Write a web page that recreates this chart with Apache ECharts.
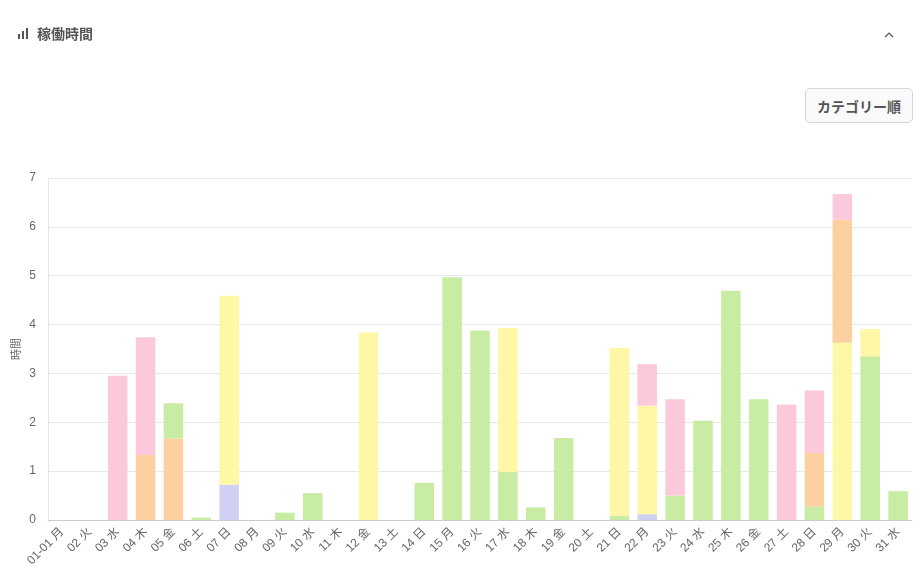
<!DOCTYPE html>
<html>
<head>
<meta charset="utf-8">
<script src="https://cdn.jsdelivr.net/npm/echarts@6/dist/echarts.min.js"></script>
<style>
  body { margin: 0; background: #fff; font-family: "Noto Sans CJK JP", "Noto Sans", sans-serif; }
  #wrap { position: relative; width: 924px; height: 584px; overflow: hidden; }
  #title { position: absolute; left: 18px; top: 23px; font-size: 14px; font-weight: bold; color: #555; display: flex; align-items: center; }
  #title .ico { display: inline-flex; align-items: flex-end; height: 11px; margin-right: 9px; gap: 2px; }
  #title .ico span { width: 2px; background: #555; display: inline-block; }
  #chev { position: absolute; left: 883px; top: 30px; }
  #btn { position: absolute; left: 805px; top: 88px; width: 108px; height: 35px; box-sizing: border-box; border: 1px solid #d6d6d6; border-radius: 5px; background: #fafafa; color: #555; font-size: 14px; font-weight: bold; display: flex; align-items: center; justify-content: center; }
  #main { position: absolute; left: 0; top: 0; width: 924px; height: 584px; }
</style>
</head>
<body>
<div id="wrap">
  <div id="main"></div>
  <div id="title"><span class="ico"><span style="height:5px"></span><span style="height:8px"></span><span style="height:11px"></span></span>稼働時間</div>
  <svg id="chev" width="12" height="10"><polyline points="2,7 6,3 10,7" fill="none" stroke="#555" stroke-width="1.2"/></svg>
  <div id="btn">カテゴリー順</div>
</div>
<script>
// 日付ラベル
var days = ["01-01 月","02 火","03 水","04 木","05 金","06 土","07 日","08 月","09 火","10 水",
  "11 木","12 金","13 土","14 日","15 月","16 火","17 水","18 木","19 金","20 土",
  "21 日","22 月","23 火","24 水","25 木","26 金","27 土","28 日","29 月","30 火","31 水"];

// カテゴリー別の稼働時間 (時間)
var purpleVals = [null,null,null,null,null,null,0.72,null,null,null,null,null,null,null,null,null,null,null,null,null,null,0.12,null,null,null,null,null,null,null,null,null];
var greenVals  = [null,null,null,null,null,0.05,null,null,0.15,0.55,null,null,null,0.76,4.97,3.88,0.98,0.26,1.68,null,0.08,null,0.50,2.03,4.69,2.47,null,0.27,null,3.35,0.59];
var yellowVals = [null,null,null,null,null,null,3.87,null,null,null,null,3.84,null,null,null,null,2.95,null,null,null,3.44,2.22,null,null,null,null,null,null,3.63,0.56,null];
var orangeVals = [null,null,null,1.33,1.67,null,null,null,null,null,null,null,null,null,null,null,null,null,null,null,null,null,null,null,null,null,null,1.10,2.52,null,null];
var green2Vals = [null,null,null,null,0.72,null,null,null,null,null,null,null,null,null,null,null,null,null,null,null,null,null,null,null,null,null,null,null,null,null,null];
var pinkVals   = [null,null,2.95,2.41,null,null,null,null,null,null,null,null,null,null,null,null,null,null,null,null,null,0.85,1.97,null,null,null,2.36,1.28,0.52,null,null];

var yTicks = [0, 1, 2, 3, 4, 5, 6, 7];

var labelFont = "Liberation Sans, Noto Sans CJK JP, sans-serif";

var chart = echarts.init(document.getElementById("main"));

function bar(name, data, color) {
  return {
    name: name,
    type: "bar",
    stack: "total",
    barWidth: "70%",
    data: data,
    itemStyle: { color: color },
    emphasis: { disabled: true }
  };
}

var option = {
  animation: false,
  textStyle: { fontFamily: labelFont },
  grid: { left: 48, right: 12, top: 178, bottom: 64, outerBoundsMode: "none", containLabel: false },
  xAxis: {
    type: "category",
    data: days,
    axisLine: { lineStyle: { color: "#cccccc" } },
    axisTick: { show: false },
    axisLabel: { rotate: 45, color: "#666", fontSize: 12, interval: 0, margin: 10, fontFamily: labelFont }
  },
  yAxis: {
    type: "value",
    min: yTicks[0],
    max: yTicks[yTicks.length - 1],
    interval: 1,
    name: "時間",
    nameLocation: "middle",
    nameGap: 26,
    nameMoveOverlap: false,
    nameTextStyle: { color: "#666", fontSize: 11 },
    axisLine: { show: true, lineStyle: { color: "#e6e6e6" } },
    axisLabel: { color: "#666", fontSize: 12, margin: 12, fontFamily: labelFont },
    splitLine: { lineStyle: { color: "#e8e8e8" } }
  },
  series: [
    bar("A", purpleVals, "#cfd0f2"),
    bar("B", greenVals, "#c8eca4"),
    bar("C", yellowVals, "#fdf7a6"),
    bar("D", orangeVals, "#fdd0a2"),
    bar("E", green2Vals, "#c8eca4"),
    bar("F", pinkVals, "#fbc8dc")
  ]
};

chart.setOption(option);
</script>
</body>
</html>
